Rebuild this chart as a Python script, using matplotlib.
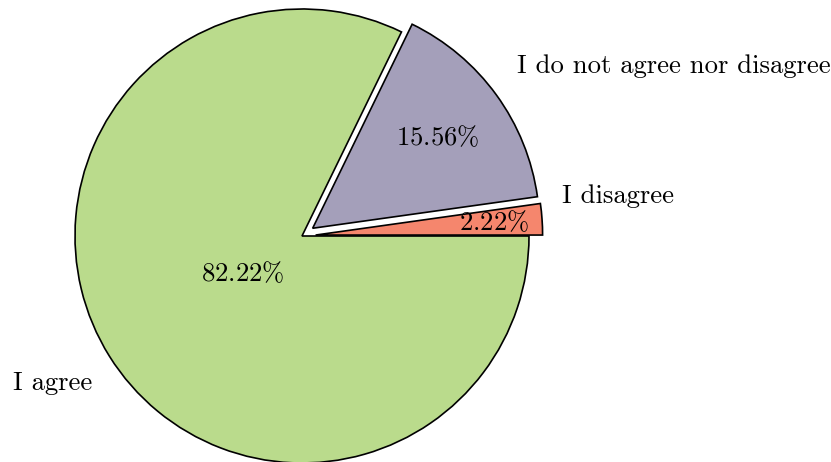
import matplotlib
matplotlib.use('Agg')
import matplotlib.pyplot as plt
import numpy as np

plt.rcParams['font.family'] = ['cmr10', 'DejaVu Serif']
plt.rcParams['mathtext.fontset'] = 'cm'
plt.rcParams['axes.formatter.use_mathtext'] = True

# データ
labels = ['I disagree', 'I do not agree nor disagree', 'I agree']
shares = [2.22, 15.56, 82.22]
colors = ['#f5866d', '#a49fba', '#badb8c']
explode = [0.06, 0.058, 0.0]

# ラベル位置 (楔の中心からの距離と角度)
pct_dist = [0.79, 0.68, 0.31]
label_dist = [1.10, 1.15, 1.13]
label_angle = [9.0, 38.5, 215.0]

fig = plt.figure(figsize=(8.31, 4.62), dpi=100)
ax = fig.add_axes([0, 0, 1, 1])

wedges, texts, autotexts = ax.pie(
    shares, labels=labels, colors=colors, explode=explode,
    startangle=0, counterclock=True,
    autopct=lambda p: r'$%.2f\%%$' % p,
    wedgeprops=dict(edgecolor='black', linewidth=1.2),
    textprops=dict(fontsize=19.2))

for w, t, a, pd, ld, la in zip(wedges, texts, autotexts, pct_dist, label_dist, label_angle):
    cx, cy = w.center
    mid = np.deg2rad((w.theta1 + w.theta2) / 2)
    a.set_position((cx + pd * np.cos(mid), cy + pd * np.sin(mid)))
    la = np.deg2rad(la)
    x, y = cx + ld * np.cos(la), cy + ld * np.sin(la)
    t.set_position((x, y))
    t.set_horizontalalignment('left' if x > 0 else 'right')
    t.set_verticalalignment('center')

ax.set_aspect('auto')
ax.set_xlim(-302 / 227, (831 - 302) / 227)
ax.set_ylim(-(462 - 236) / 227, 236 / 227)
ax.axis('off')

plt.savefig('out.png', dpi=100)
